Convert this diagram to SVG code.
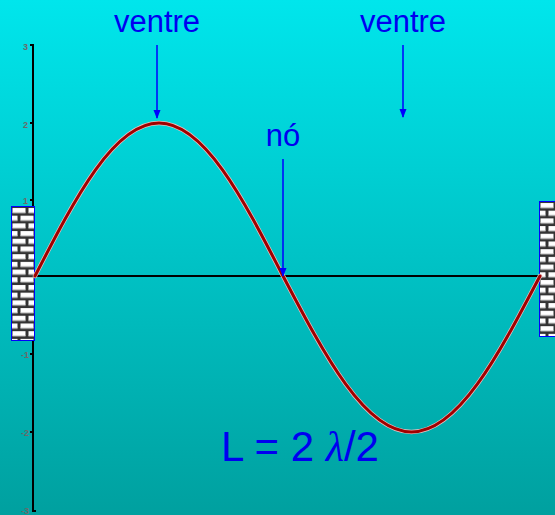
<svg xmlns="http://www.w3.org/2000/svg" width="555" height="515" viewBox="0 0 555 515">
  <defs>
    <linearGradient id="bg" x1="0" y1="0" x2="0" y2="1">
      <stop offset="0" stop-color="#00E6EC"/>
      <stop offset="0.5" stop-color="#00C3C6"/>
      <stop offset="1" stop-color="#00A09F"/>
    </linearGradient>
    <!-- staggered brick courses -->
    <pattern id="bricks" width="16" height="15.4" patternUnits="userSpaceOnUse" x="11" y="207">
      <rect width="16" height="15.4" fill="#333333"/>
      <rect x="1.5" y="1" width="13" height="5" fill="#ffffff"/>
      <rect x="1.5" y="5.2" width="13" height="0.8" fill="#c8c8c8"/>
      <rect x="-6.5" y="8.7" width="13" height="5" fill="#ffffff"/>
      <rect x="-6.5" y="12.9" width="13" height="0.8" fill="#c8c8c8"/>
      <rect x="9.5" y="8.7" width="13" height="5" fill="#ffffff"/>
      <rect x="9.5" y="12.9" width="13" height="0.8" fill="#c8c8c8"/>
    </pattern>
    <pattern id="bricksR" href="#bricks" x="539" y="202"/>
    <marker id="arrow" markerWidth="10" markerHeight="10" refX="8" refY="5" orient="auto" markerUnits="userSpaceOnUse">
      <path d="M0,1.5 L9,5 L0,8.5 Z" fill="#0000FF"/>
    </marker>
    <style>
      .lbl { font-family: "Liberation Sans", Arial, sans-serif; fill: #0000F0; }
      .tick { font-family: "Liberation Sans", Arial, sans-serif; font-size: 9px; font-weight: bold; fill: #6a6a6a; text-anchor: end; }
      .pointer { stroke: #0000FF; stroke-width: 1.5; fill: none; marker-end: url(#arrow); }
      .axis { stroke: #000000; stroke-width: 2; fill: none; }
    </style>
  </defs>

  <rect width="555" height="515" fill="url(#bg)"/>

  <!-- vertical axis with ticks -->
  <g id="axis">
    <line class="axis" x1="33" y1="45" x2="33" y2="512"/>
    <line class="axis" x1="30" y1="45" x2="34" y2="45"/>
    <line class="axis" x1="30" y1="123" x2="33" y2="123"/>
    <line class="axis" x1="30" y1="200" x2="33" y2="200"/>
    <line class="axis" x1="30" y1="354" x2="33" y2="354"/>
    <line class="axis" x1="30" y1="432" x2="33" y2="432"/>
    <line class="axis" x1="33" y1="511" x2="36" y2="511"/>
    <text class="tick" x="28" y="50">3</text>
    <text class="tick" x="28" y="128">2</text>
    <text class="tick" x="28" y="204">1</text>
    <text class="tick" x="29" y="358">-1</text>
    <text class="tick" x="29" y="436">-2</text>
    <text class="tick" x="29" y="514">-3</text>
  </g>

  <!-- walls at both fixed ends -->
  <g id="wall-left">
    <rect x="11.5" y="206.5" width="23" height="134" fill="url(#bricks)" stroke="#0000FF" stroke-width="1"/>
  </g>
  <g id="wall-right">
    <rect x="539.5" y="201.5" width="20" height="135" fill="url(#bricksR)" stroke="#0000FF" stroke-width="1"/>
  </g>

  <!-- rest line of the string -->
  <g id="baseline">
    <line class="axis" x1="35" y1="276" x2="540" y2="276"/>
  </g>

  <!-- standing wave -->
  <g id="wave">
    <path d="M35,276 C75.4,197.6 114.1,123 159,123 C203.9,123 242.6,197.6 283,276 C324.9,355.9 365,432 411.5,432 C458,432 498.1,355.9 540,276" fill="none" stroke="#E8C0C0" stroke-width="4.5" stroke-linecap="round"/>
    <path d="M35,276 C75.4,197.6 114.1,123 159,123 C203.9,123 242.6,197.6 283,276 C324.9,355.9 365,432 411.5,432 C458,432 498.1,355.9 540,276" fill="none" stroke="#A00000" stroke-width="3" stroke-linecap="round"/>
  </g>

  <!-- labels and pointers -->
  <g id="connectors">
    <line class="pointer" x1="157" y1="45" x2="157" y2="118"/>
    <line class="pointer" x1="403" y1="45" x2="403" y2="117"/>
    <line class="pointer" x1="283" y1="159" x2="283" y2="276"/>
  </g>
  <g id="label-ventre-1">
    <text class="lbl" x="157" y="32" font-size="31" text-anchor="middle">ventre</text>
  </g>
  <g id="label-ventre-2">
    <text class="lbl" x="403" y="32" font-size="31" text-anchor="middle">ventre</text>
  </g>
  <g id="label-no">
    <text class="lbl" x="283" y="146" font-size="31" text-anchor="middle">nó</text>
  </g>
  <g id="label-length">
    <text class="lbl" x="221" y="461" font-size="42">L = 2 <tspan font-family="'Liberation Serif', 'Times New Roman', serif" font-style="italic">λ</tspan>/2</text>
  </g>
</svg>
